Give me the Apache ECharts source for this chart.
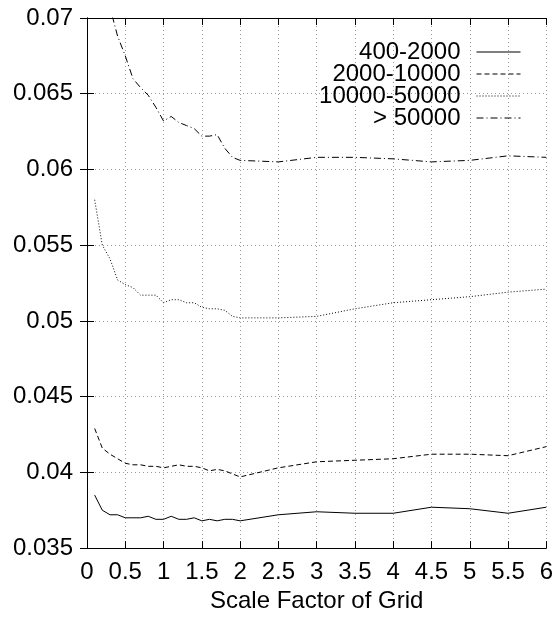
<!DOCTYPE html>
<html>
<head>
<meta charset="utf-8">
<script src="https://cdn.jsdelivr.net/npm/echarts@6/dist/echarts.min.js"></script>
<style>
  html, body { margin: 0; padding: 0; background: #fff; }
  #chart { width: 556px; height: 618px; }
</style>
</head>
<body>
<div id="chart"></div>
<script>
// x positions of the samples
const xValues = [0.1, 0.2, 0.3, 0.4, 0.5, 0.6, 0.7, 0.8, 0.9, 1.0,
                 1.1, 1.2, 1.3, 1.4, 1.5, 1.6, 1.7, 1.8, 1.9, 2.0,
                 2.5, 3.0, 3.5, 4.0, 4.5, 5.0, 5.5, 6.0]

// series values
const s400_2000 = [0.0385, 0.0375, 0.0372, 0.0372, 0.0370, 0.0370, 0.0370, 0.0371, 0.0369, 0.0369,
                   0.0371, 0.0369, 0.0369, 0.0370, 0.0368, 0.0369, 0.0368, 0.0369, 0.0369, 0.0368,
                   0.0372, 0.0374, 0.0373, 0.0373, 0.0377, 0.0376, 0.0373, 0.0377]
const s2000_10000 = [0.0429, 0.0416, 0.0412, 0.0409, 0.0406, 0.0405, 0.0405, 0.0404, 0.0404, 0.0403,
                     0.0404, 0.0405, 0.0404, 0.0404, 0.0403, 0.0401, 0.0402, 0.0401, 0.0399, 0.0397,
                     0.0403, 0.0407, 0.0408, 0.0409, 0.0412, 0.0412, 0.0411, 0.0417]
const s10000_50000 = [0.0580, 0.0550, 0.0541, 0.0527, 0.0524, 0.0522, 0.0517, 0.0517, 0.0517, 0.0512,
                      0.0514, 0.0514, 0.0512, 0.0512, 0.0509, 0.0508, 0.0508, 0.0507, 0.0503, 0.0502,
                      0.0502, 0.0503, 0.0508, 0.0512, 0.0514, 0.0516, 0.0519, 0.0521]
const s50000 = [0.0765, 0.0728, 0.0707, 0.0688, 0.0675, 0.0660, 0.0654, 0.0649, 0.0641, 0.0632,
                0.0635, 0.0631, 0.0629, 0.0627, 0.0622, 0.0622, 0.0623, 0.0614, 0.0608, 0.0606,
                0.0605, 0.0608, 0.0608, 0.0607, 0.0605, 0.0606, 0.0609, 0.0608]

const seriesNames = ['400-2000', '2000-10000', '10000-50000', '> 50000']
const xTicks = { min: 0, max: 6, step: 0.5 }
const yTicks = { min: 0.035, max: 0.07, step: 0.005 }

const font = 'Liberation Sans'

const pairs = (ys) => xValues.map((x, i) => [x, ys[i]])

const mkSeries = (name, ys, dash) => ({
  name: name,
  type: 'line',
  data: pairs(ys),
  symbol: 'none',
  clip: true,
  lineStyle: { color: '#000', width: 1, type: dash },
  itemStyle: { color: '#000' }
})

const chart = echarts.init(document.getElementById('chart'))

const tickStyle = { inside: true, length: 7, lineStyle: { color: '#000', width: 1 } }
const gridLine = { show: true, lineStyle: { color: '#999', type: [1, 3], width: 1 } }

chart.setOption({
  animation: false,
  backgroundColor: '#fff',
  textStyle: { fontFamily: font },
  grid: { left: 87, right: 8, top: 18, bottom: 59 },
  legend: {
    orient: 'vertical',
    align: 'right',
    right: 30,
    top: 35,
    itemWidth: 44,
    itemHeight: 10,
    itemGap: -2,
    selectedMode: false,
    data: seriesNames,
    // hide the marker in the middle of the legend line
    itemStyle: { opacity: 0, color: 'transparent', borderWidth: 0 },
    lineStyle: { width: 1 },
    textStyle: {
      fontFamily: font, fontSize: 24, color: '#000', lineHeight: 22,
      padding: [0, 11, 0, 0]
    }
  },
  xAxis: [
    {
      type: 'value',
      min: xTicks.min, max: xTicks.max, interval: xTicks.step,
      name: 'Scale Factor of Grid',
      nameLocation: 'middle',
      nameGap: 33,
      nameTextStyle: { fontFamily: font, fontSize: 24, color: '#000' },
      axisLine: { lineStyle: { color: '#000', width: 1 } },
      axisTick: tickStyle,
      axisLabel: { fontFamily: font, fontSize: 24, color: '#000', margin: 12 },
      splitLine: gridLine
    },
    {
      type: 'value', position: 'top',
      min: xTicks.min, max: xTicks.max, interval: xTicks.step,
      axisLine: { show: true, lineStyle: { color: '#000', width: 1 } },
      axisTick: tickStyle,
      axisLabel: { show: false },
      splitLine: { show: false }
    }
  ],
  yAxis: [
    {
      type: 'value',
      min: yTicks.min, max: yTicks.max, interval: yTicks.step,
      axisLine: { show: true, lineStyle: { color: '#000', width: 1 } },
      axisTick: tickStyle,
      axisLabel: {
        fontFamily: font, fontSize: 24, color: '#000', margin: 14,
        formatter: (v) => String(+v.toFixed(3))
      },
      splitLine: gridLine
    },
    {
      type: 'value', position: 'right',
      min: yTicks.min, max: yTicks.max, interval: yTicks.step,
      axisLine: { show: true, lineStyle: { color: '#000', width: 1 } },
      axisTick: tickStyle,
      axisLabel: { show: false },
      splitLine: { show: false }
    }
  ],
  series: [
    mkSeries(seriesNames[0], s400_2000, 'solid'),
    mkSeries(seriesNames[1], s2000_10000, [5, 3]),
    mkSeries(seriesNames[2], s10000_50000, [1, 2]),
    mkSeries(seriesNames[3], s50000, [7, 3, 1, 3])
  ]
})
</script>
</body>
</html>
